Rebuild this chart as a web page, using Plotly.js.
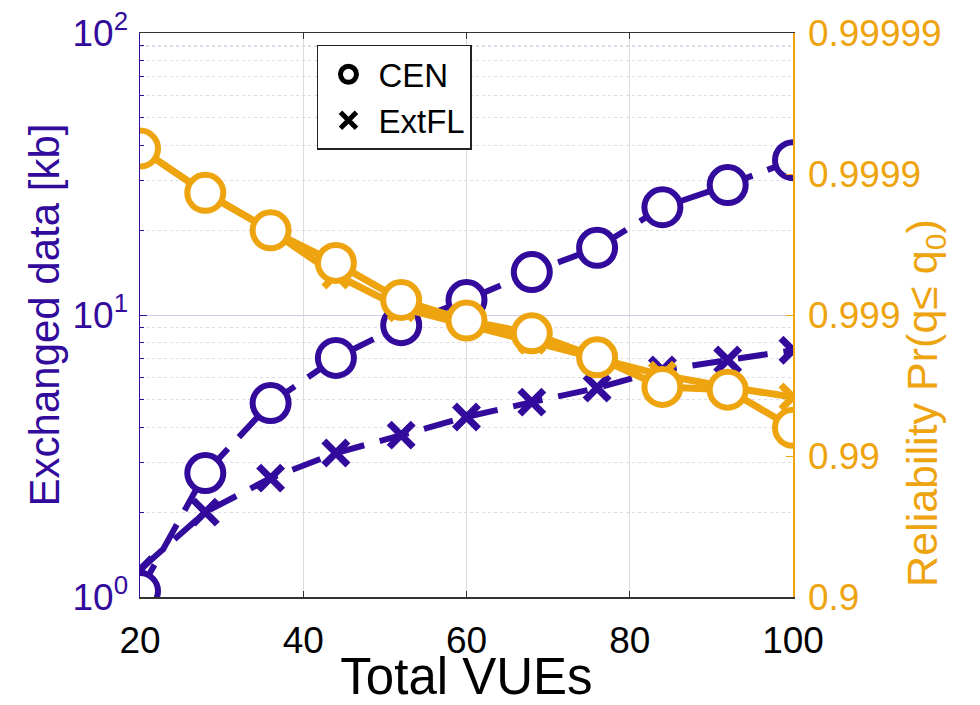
<!DOCTYPE html>
<html>
<head>
<meta charset="utf-8">
<script src="https://cdn.plot.ly/plotly-3.0.1.min.js"></script>
<style>html,body{margin:0;padding:0;background:#fff}</style>
</head>
<body>
<div id="chart" style="width:980px;height:705px"></div>
<script>
// ---- data ----
const vues = [20, 28, 36, 44, 52, 60, 68, 76, 84, 92, 100];
const cenData = [1.05, 2.75, 4.87, 7.04, 9.2, 11.3, 14.2, 17.3, 24.1, 28.9, 35.4];
const extflData = [1.25, 2.0, 2.64, 3.24, 3.75, 4.35, 4.91, 5.51, 6.38, 6.92, 7.5];
const cenRel = [0.999934, 0.999864, 0.999749, 0.999573, 0.999217, 0.998904, 0.998651, 0.998005, 0.99676, 0.99661, 0.99369];
const extflRel = [0.999934, 0.999864, 0.999749, 0.99948, 0.99911, 0.99883, 0.99849, 0.998005, 0.99733, 0.99676, 0.99618];
const xTicks = [20, 40, 60, 80, 100];
const leftTickVals = [1, 10, 100];
const leftTickText = ['10<sup>0</sup>', '10<sup>1</sup>', '10<sup>2</sup>'];
const leftMinorVals = [2, 3, 4, 5, 6, 7, 8, 9, 20, 30, 40, 50, 60, 70, 80, 90];
const relTicks = [0.9, 0.99, 0.999, 0.9999, 0.99999];
const relTickText = ['0.9', '0.99', '0.999', '0.9999', '0.99999'];

// ---- styles ----
const PURPLE = '#320a9c';
const ORANGE = '#eea40f';
const FONT = 'Liberation Sans, Arial, Helvetica, sans-serif';
const unrel = a => a.map(r => 1 - r);

const traces = [
  { x: vues, y: extflData, yaxis: 'y', mode: 'lines+markers', showlegend: false,
    line: { color: PURPLE, width: 6, dash: '30px,16px' },
    marker: { symbol: 'x-thin-open', size: 24, color: PURPLE, line: { color: PURPLE, width: 7 } } },
  { x: vues, y: cenData, yaxis: 'y', mode: 'lines+markers', showlegend: false,
    line: { color: PURPLE, width: 6, dash: '30px,16px' },
    marker: { symbol: 'circle', size: 36, color: 'white', line: { color: PURPLE, width: 6 } } },
  { x: vues, y: unrel(extflRel), yaxis: 'y2', mode: 'lines+markers', showlegend: false,
    line: { color: ORANGE, width: 7 },
    marker: { symbol: 'x-thin-open', size: 24, color: ORANGE, line: { color: ORANGE, width: 7 } } },
  { x: vues, y: unrel(cenRel), yaxis: 'y2', mode: 'lines+markers', showlegend: false,
    line: { color: ORANGE, width: 7 },
    marker: { symbol: 'circle', size: 36, color: 'white', line: { color: ORANGE, width: 6 } } },
  { x: [null], y: [null], name: 'CEN', mode: 'markers',
    marker: { symbol: 'circle-open', size: 30, color: 'black', line: { color: 'black', width: 5 } } },
  { x: [null], y: [null], name: 'ExtFL', mode: 'markers',
    marker: { symbol: 'x-thin-open', size: 24, color: 'black', line: { color: 'black', width: 5 } } }
];

const layout = {
  width: 980, height: 705,
  margin: { l: 140, r: 187, t: 33, b: 108 },
  paper_bgcolor: 'white', plot_bgcolor: 'white',
  font: { family: FONT },
  showlegend: true,
  legend: { x: 0.271, y: 0.979, xanchor: 'left', yanchor: 'top', bgcolor: 'white',
    bordercolor: '#222', borderwidth: 1.5, font: { size: 33, color: 'black', family: FONT },
    tracegroupgap: 0, itemwidth: 50 },
  xaxis: { range: [20, 100], tickmode: 'array', tickvals: xTicks,
    showline: true, linecolor: '#333', linewidth: 1.5, mirror: 'ticks',
    ticks: 'inside', ticklen: 6, tickcolor: '#333', ticklabelstandoff: 10,
    showgrid: true, gridcolor: '#dcdcdc', gridwidth: 1, zeroline: false,
    tickfont: { size: 37, color: 'black', family: FONT },
    title: { text: 'Total VUEs', font: { size: 51, color: 'black', family: FONT }, standoff: 4 } },
  yaxis: { type: 'log', range: [0, 2], tickmode: 'array', tickvals: leftTickVals, ticktext: leftTickText,
    tickfont: { size: 37, color: PURPLE, family: FONT }, ticklabelstandoff: 3,
    showline: true, linecolor: PURPLE, linewidth: 1.5,
    ticks: 'inside', ticklen: 7, tickcolor: PURPLE,
    showgrid: true, gridcolor: '#d2cbee', gridwidth: 1, zeroline: false,
    minor: { tickmode: 'array', tickvals: leftMinorVals, ticks: 'inside', ticklen: 4, tickcolor: PURPLE,
      showgrid: true, gridcolor: '#dcdcea', griddash: 'dot', gridwidth: 1.2 },
    title: { text: 'Exchanged data [kb]', font: { size: 42, color: PURPLE, family: FONT }, standoff: 0 } },
  yaxis2: { type: 'log', overlaying: 'y', side: 'right', range: [-1, -5],
    tickmode: 'array', tickvals: unrel(relTicks), ticktext: relTickText,
    tickfont: { size: 37, color: ORANGE, family: FONT }, ticklabelstandoff: 6,
    showline: true, linecolor: ORANGE, linewidth: 1.5,
    ticks: 'inside', ticklen: 7, tickcolor: ORANGE,
    showgrid: false, zeroline: false },
  annotations: [{ text: 'Reliability Pr(q≤ q<sub>0</sub>)', xref: 'paper', yref: 'paper',
    x: 1.202, y: 0.344, textangle: -90, showarrow: false, xanchor: 'center', yanchor: 'middle',
    font: { size: 43, color: ORANGE, family: FONT } }]
};

Plotly.newPlot('chart', traces, layout, { displayModeBar: false, staticPlot: true });
</script>
</body>
</html>
